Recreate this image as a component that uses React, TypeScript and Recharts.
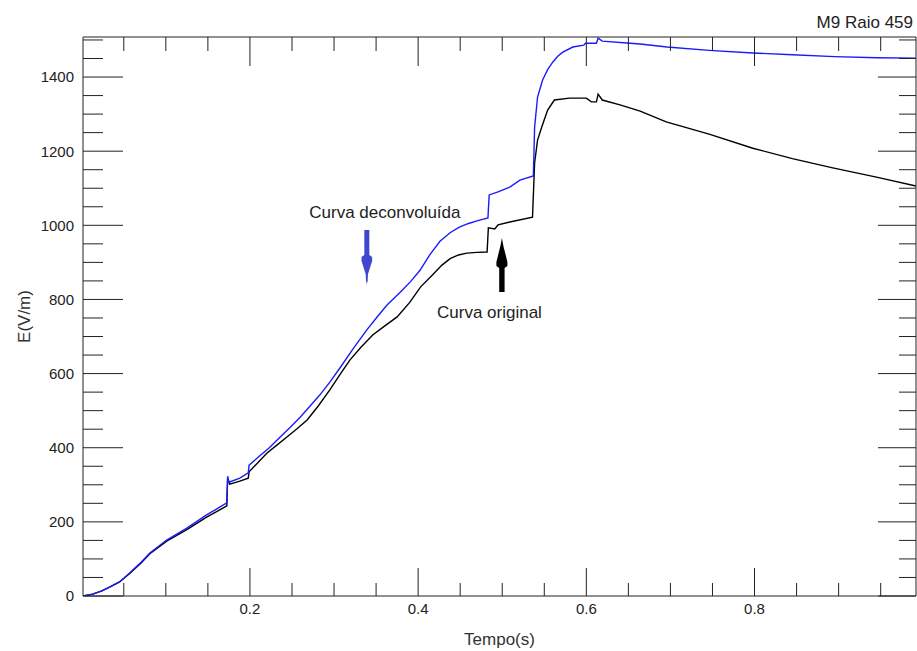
import React from 'react';
import { LineChart, Line, XAxis, YAxis, ReferenceDot, Label } from 'recharts';

// Curva deconvoluída (blue)
const deconvTime = [0.0015, 0.013, 0.024, 0.033, 0.045, 0.057, 0.07, 0.081, 0.101, 0.125, 0.148, 0.1725, 0.1735, 0.175, 0.188, 0.198, 0.199, 0.21, 0.223, 0.236, 0.248, 0.26, 0.271, 0.283, 0.295, 0.307, 0.323, 0.339, 0.351, 0.363, 0.379, 0.391, 0.402, 0.414, 0.426, 0.438, 0.449, 0.46, 0.47, 0.483, 0.4845, 0.495, 0.509, 0.521, 0.537, 0.5385, 0.542, 0.548, 0.554, 0.56, 0.566, 0.572, 0.584, 0.597, 0.599, 0.612, 0.614, 0.619, 0.652, 0.664, 0.696, 0.746, 0.798, 0.845, 0.895, 0.945, 0.992];
const deconvField = [0, 5, 14, 24, 38, 62, 90, 116, 151, 183, 218, 251, 323, 307, 318, 332, 353, 375, 400, 429, 455, 483, 511, 542, 577, 615, 668, 718, 752, 785, 820, 848, 878, 921, 957, 980, 995, 1005, 1012, 1020, 1082, 1090, 1103, 1122, 1133, 1265, 1346, 1392, 1420, 1440, 1456, 1467, 1481, 1486, 1491, 1491, 1505, 1497, 1491, 1489, 1481, 1472, 1465, 1460, 1455, 1452, 1451];

// Curva original (black)
const origTime = [0.0015, 0.013, 0.024, 0.033, 0.045, 0.057, 0.07, 0.081, 0.101, 0.125, 0.148, 0.1725, 0.1735, 0.176, 0.188, 0.198, 0.199, 0.22, 0.232, 0.244, 0.256, 0.268, 0.281, 0.295, 0.307, 0.319, 0.332, 0.346, 0.36, 0.375, 0.39, 0.403, 0.417, 0.428, 0.438, 0.448, 0.458, 0.47, 0.482, 0.4835, 0.491, 0.495, 0.509, 0.536, 0.5385, 0.542, 0.547, 0.554, 0.562, 0.58, 0.6, 0.606, 0.612, 0.614, 0.619, 0.64, 0.664, 0.695, 0.746, 0.798, 0.845, 0.893, 0.945, 0.992];
const origField = [0, 5, 14, 24, 38, 61, 88, 114, 148, 179, 212, 243, 318, 302, 310, 318, 335, 385, 407, 429, 451, 475, 512, 556, 597, 637, 671, 704, 728, 753, 792, 834, 866, 892, 910, 920, 925, 927, 928, 993, 990, 1001, 1009, 1022, 1168, 1230, 1265, 1311, 1338, 1343, 1343, 1333, 1333, 1354, 1338, 1325, 1308, 1279, 1246, 1208, 1180, 1155, 1130, 1106];

const xTicks = [0.05, 0.1, 0.15, 0.2, 0.25, 0.3, 0.35, 0.4, 0.45, 0.5, 0.55, 0.6, 0.65, 0.7, 0.75, 0.8, 0.85, 0.9, 0.95];
const xTickLabels = [0.2, 0.4, 0.6, 0.8];
const yTicks = [0, 50, 100, 150, 200, 250, 300, 350, 400, 450, 500, 550, 600, 650, 700, 750, 800, 850, 900, 950, 1000, 1050, 1100, 1150, 1200, 1250, 1300, 1350, 1400, 1450, 1500];
const yTickLabels = [0, 200, 400, 600, 800, 1000, 1200, 1400];

const xDomain = [0.0015, 0.992];
const yDomain = [0, 1508];

const title = 'M9 Raio 459';
const xTitle = 'Tempo(s)';
const yTitle = 'E(V/m)';
const deconvNote = { text: 'Curva deconvoluída', t: 0.3605, v: 1036 };
const origNote = { text: 'Curva original', t: 0.4848, v: 766 };
const deconvArrowTip = { t: 0.339, v: 842 };
const origArrowTip = { t: 0.4996, v: 966 };

const FONT = '"Liberation Sans", Arial, Helvetica, sans-serif';
const AXIS = '#222';

const deconvData = deconvTime.map((t, i) => ({ t, v: deconvField[i] }));
const origData = origTime.map((t, i) => ({ t, v: origField[i] }));

const BottomTick = (p: any) => {
  const { x, y, payload } = p;
  const major = xTickLabels.includes(payload.value);
  return (
    <g>
      <line x1={x} x2={x} y1={y} y2={y - (major ? 28 : 13)} stroke={AXIS} strokeWidth={1} />
      {major && (
        <text x={x} y={y + 17.5} textAnchor="middle" fontSize={15} fontFamily={FONT} fill="#222">
          {payload.value}
        </text>
      )}
    </g>
  );
};

const TopTick = (p: any) => {
  const { x, y, payload } = p;
  const major = xTickLabels.includes(payload.value);
  return <line x1={x} x2={x} y1={y} y2={y + (major ? 29 : 14)} stroke={AXIS} strokeWidth={1} />;
};

const LeftTick = (p: any) => {
  const { x, y, payload } = p;
  const major = yTickLabels.includes(payload.value);
  return (
    <g>
      <line x1={x} x2={x + (major ? 40 : 20)} y1={y} y2={y} stroke={AXIS} strokeWidth={1} />
      {major && (
        <text x={x - 9} y={y} dy="0.36em" textAnchor="end" fontSize={15} fontFamily={FONT} fill="#222">
          {payload.value}
        </text>
      )}
    </g>
  );
};

const RightTick = (p: any) => {
  const { x, y, payload } = p;
  const major = yTickLabels.includes(payload.value);
  return <line x1={x} x2={x - (major ? 38 : 17)} y1={y} y2={y} stroke={AXIS} strokeWidth={1} />;
};

const DownArrow = (p: any) => {
  const { cx, cy } = p;
  const pts = [
    [-2.5, -54], [2.5, -54], [2.5, -29], [5.3, -27], [5.3, -23], [1.2, -10], [0.8, -3], [0, 0],
    [-0.8, -3], [-1.2, -10], [-5.3, -23], [-5.3, -27], [-2.5, -29],
  ].map(([dx, dy]) => `${cx + dx},${cy + dy}`).join(' ');
  return <polygon points={pts} fill="#3f48cc" />;
};

const UpArrow = (p: any) => {
  const { cx, cy } = p;
  const pts = [
    [0, 0], [1.5, 8], [5.5, 24], [5.5, 28], [2.7, 30], [2.7, 54], [-2.7, 54], [-2.7, 30],
    [-5.5, 28], [-5.5, 24], [-1.5, 8],
  ].map(([dx, dy]) => `${cx + dx},${cy + dy}`).join(' ');
  return <polygon points={pts} fill="#000" />;
};

const NoteText = (text: string) => (p: any) => (
  <text x={p.cx} y={p.cy} dy="0.36em" textAnchor="middle" fontSize={17} fontFamily={FONT} fill="#222">
    {text}
  </text>
);

export default function App() {
  return (
    <div style={{ position: 'absolute', left: 0, top: 0, width: 917, height: 651, background: '#fff' }}>
      <LineChart width={917} height={651} margin={{ top: 36, right: 0, bottom: 0, left: 0 }}>
        <XAxis
          xAxisId={0}
          dataKey="t"
          type="number"
          domain={xDomain}
          allowDataOverflow
          ticks={xTicks}
          interval={0}
          height={55}
          tickSize={0}
          tickMargin={0}
          tickLine={false}
          tick={<BottomTick />}
          axisLine={{ stroke: AXIS, strokeWidth: 1 }}
        >
          <Label
            content={(lp: any) => {
              const vb = lp.viewBox || { x: 83, y: 596, width: 833 };
              return (
                <text x={vb.x + vb.width / 2} y={vb.y + 49} textAnchor="middle" fontSize={17} fontFamily={FONT} fill="#333">
                  {xTitle}
                </text>
              );
            }}
          />
        </XAxis>
        <XAxis
          xAxisId="top"
          orientation="top"
          dataKey="t"
          type="number"
          domain={xDomain}
          allowDataOverflow
          ticks={xTicks}
          interval={0}
          height={1}
          tickSize={0}
          tickMargin={0}
          tickLine={false}
          tick={<TopTick />}
          axisLine={{ stroke: AXIS, strokeWidth: 1 }}
        />
        <YAxis
          yAxisId={0}
          type="number"
          domain={yDomain}
          allowDataOverflow
          ticks={yTicks}
          interval={0}
          width={83}
          tickSize={0}
          tickMargin={0}
          tickLine={false}
          tick={<LeftTick />}
          axisLine={{ stroke: AXIS, strokeWidth: 1 }}
        >
          <Label
            content={(lp: any) => {
              const vb = lp.viewBox || { x: 0, y: 37, height: 559 };
              const cy = vb.y + vb.height / 2;
              return (
                <text
                  x={0}
                  y={0}
                  transform={`translate(30, ${cy}) rotate(-90)`}
                  textAnchor="middle"
                  fontSize={17}
                  fontFamily={FONT}
                  fill="#333"
                >
                  {yTitle}
                </text>
              );
            }}
          />
        </YAxis>
        <YAxis
          yAxisId="right"
          orientation="right"
          type="number"
          domain={yDomain}
          allowDataOverflow
          ticks={yTicks}
          interval={0}
          width={1}
          tickSize={0}
          tickMargin={0}
          tickLine={false}
          tick={<RightTick />}
          axisLine={{ stroke: AXIS, strokeWidth: 1 }}
        />
        {/* invisible helper series binding the mirrored top/right frame axes */}
        <Line
          xAxisId="top"
          yAxisId="right"
          data={origData}
          dataKey="v"
          stroke="none"
          dot={false}
          activeDot={false}
          legendType="none"
          isAnimationActive={false}
        />
        <Line
          data={origData}
          dataKey="v"
          type="linear"
          stroke="#000000"
          strokeWidth={1.4}
          dot={false}
          activeDot={false}
          isAnimationActive={false}
        />
        <Line
          data={deconvData}
          dataKey="v"
          type="linear"
          stroke="#1a1aff"
          strokeWidth={1.4}
          dot={false}
          activeDot={false}
          isAnimationActive={false}
        />
        <ReferenceDot x={deconvArrowTip.t} y={deconvArrowTip.v} r={0} shape={<DownArrow />} />
        <ReferenceDot x={origArrowTip.t} y={origArrowTip.v} r={0} shape={<UpArrow />} />
        <ReferenceDot x={deconvNote.t} y={deconvNote.v} r={0} shape={NoteText(deconvNote.text)} />
        <ReferenceDot x={origNote.t} y={origNote.v} r={0} shape={NoteText(origNote.text)} />
      </LineChart>
      <div
        style={{
          position: 'absolute',
          right: 4,
          top: 13,
          fontFamily: FONT,
          fontSize: 17,
          color: '#222',
          lineHeight: '20px',
          whiteSpace: 'nowrap',
        }}
      >
        {title}
      </div>
    </div>
  );
}
